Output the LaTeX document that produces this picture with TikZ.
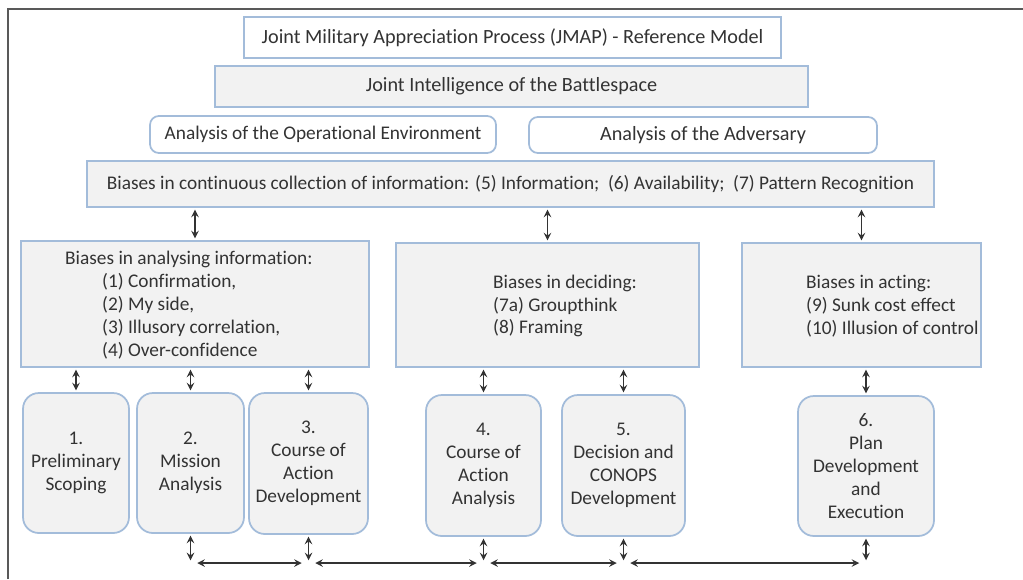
\documentclass[tikz,border=0pt]{standalone}
\usepackage{fontspec}
\setmainfont{Carlito}[Ligatures=NoCommon]
\usetikzlibrary{calc}

\definecolor{boxline}{HTML}{A3BCDA}
\definecolor{boxfill}{HTML}{F2F2F2}
\definecolor{txt}{HTML}{333333}

\begin{document}
\begin{tikzpicture}[x=0.02cm,y=-0.02cm,
  every node/.style={font=\fontsize{11}{13}\selectfont,text=txt},
  headfont/.style={font=\fontsize{11.5}{13}\selectfont},
  plainbox/.style={draw=boxline,line width=1pt,fill=white,inner sep=0pt},
  graybox/.style={draw=boxline,line width=1pt,fill=boxfill,inner sep=0pt},
  roundbox/.style={plainbox,rounded corners=5pt},
  stagebox/.style={graybox,rounded corners=9pt,align=center},
  link/.style={line width=0.9pt,black!80,stealth-stealth,shorten <=1pt,shorten >=1pt}]
\useasboundingbox (0,0) rectangle (1023,579);
% frame of the figure
\draw[line width=1.2pt,black!65] (8,579)--(8,9)--(1023,9);

% top headers
\node[plainbox,headfont,minimum width=10.74cm,minimum height=0.82cm] (jmap) at (512.5,37.5)
  {Joint Military Appreciation Process (JMAP) - Reference Model};
\node[graybox,headfont,minimum width=11.86cm,minimum height=0.82cm] (jib) at (511.5,86.5)
  {Joint Intelligence of the Battlespace};
\node[roundbox,minimum width=6.92cm,minimum height=0.74cm] (aoe) at (323,134.5)
  {Analysis of the Operational Environment};
\node[roundbox,headfont,minimum width=6.96cm,minimum height=0.72cm] (aadv) at (703,135)
  {Analysis of the Adversary};
\node[graybox,minimum width=16.94cm,minimum height=0.92cm] (coll) at (510.5,184)
  {Biases in continuous collection of information: (5) Information;\ \ (6) Availability;\ \ (7) Pattern Recognition};

% bias boxes
\node[graybox,minimum width=6.96cm,minimum height=2.52cm] (anl) at (195,304) {};
\node[anchor=west,align=left] (anltxt) at (59,305)
  {Biases in analysing information:\\
   \hspace*{0.74cm}(1) Confirmation,\\
   \hspace*{0.74cm}(2) My side,\\
   \hspace*{0.74cm}(3) Illusory correlation,\\
   \hspace*{0.74cm}(4) Over-confidence};
\node[graybox,minimum width=6.06cm,minimum height=2.48cm] (dec) at (547.5,305) {};
\node[anchor=west,align=left] (dectxt) at (487,306)
  {Biases in deciding:\\(7a) Groupthink\\(8) Framing};
\node[graybox,minimum width=4.78cm,minimum height=2.48cm] (act) at (861.5,305) {};
\node[anchor=west,align=left] (acttxt) at (800,306)
  {Biases in acting:\\(9) Sunk cost effect\\(10) Illusion of control};

% JMAP stages
\node[stagebox,minimum width=2.12cm,minimum height=2.8cm] (p1) at (76,463)
  {1.\\Preliminary\\Scoping};
\node[stagebox,minimum width=2.14cm,minimum height=2.8cm] (p2) at (190.5,463)
  {2.\\Mission\\Analysis};
\node[stagebox,minimum width=2.38cm,minimum height=2.82cm] (p3) at (308.5,463.5)
  {3.\\Course of\\Action\\Development};
\node[stagebox,minimum width=2.3cm,minimum height=2.82cm] (p4) at (483.5,465.5)
  {4.\\Course of\\Action\\Analysis};
\node[stagebox,minimum width=2.46cm,minimum height=2.82cm] (p5) at (623.5,465.5)
  {5.\\Decision and\\CONOPS\\Development};
\node[stagebox,minimum width=2.72cm,minimum height=2.8cm] (p6) at (866,466)
  {6.\\Plan\\Development\\and\\Execution};

% links
\draw[link] (coll.south -| anl.north) -- (anl.north);
\draw[link] (coll.south -| dec.north) -- (dec.north);
\draw[link] (coll.south -| act.north) -- (act.north);
\foreach \p in {p1,p2,p3}
  \draw[link] (anl.south -| \p.north) -- (\p.north);
\foreach \p in {p4,p5}
  \draw[link] (dec.south -| \p.north) -- (\p.north);
\draw[link] (act.south -| p6.north) -- (p6.north);

% bottom chain between stages
\coordinate (bus) at (0,562);
\foreach \p in {p2,p3,p4,p5,p6}
  \draw[link] (\p.south) -- (\p.south |- bus);
\foreach \a/\b in {p2/p3,p3/p4,p4/p5,p5/p6}
  \draw[link] ($(\a.south |- bus)+(5,1)$) -- ($(\b.south |- bus)+(-5,1)$);
\end{tikzpicture}
\end{document}
